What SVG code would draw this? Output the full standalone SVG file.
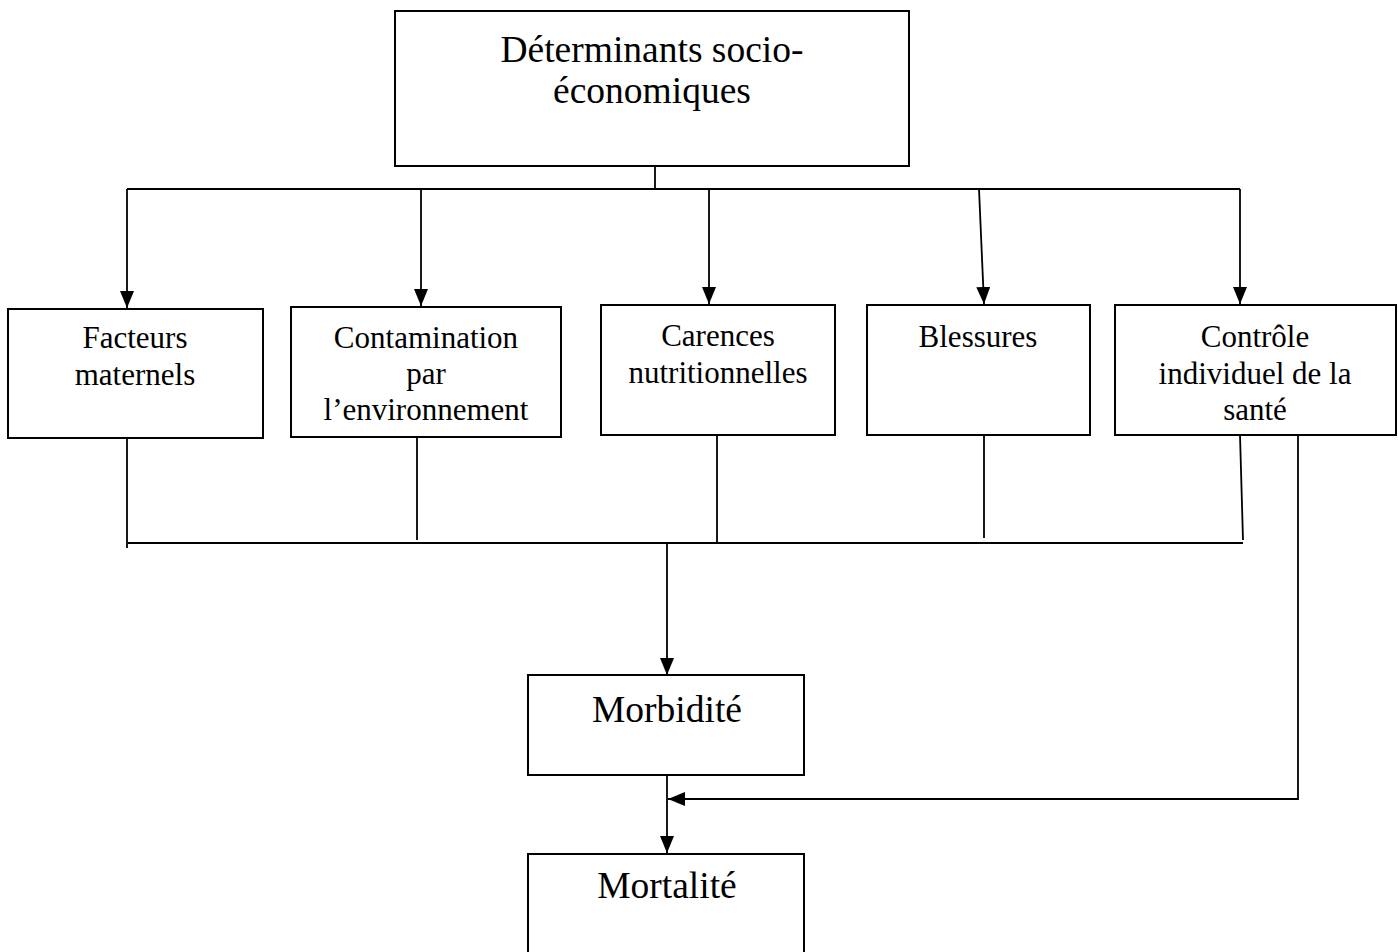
<svg xmlns="http://www.w3.org/2000/svg" width="1398" height="952" viewBox="0 0 1398 952">
<defs>
<style>
.box{fill:#fff;stroke:#000;stroke-width:2}
.ln{fill:none;stroke:#000;stroke-width:1.8}
.t{font-family:"Liberation Serif","Times New Roman",serif;fill:#000;text-anchor:middle}
.s{font-size:31px}
.b{font-size:37.5px}
</style>
<marker id="ah" markerUnits="userSpaceOnUse" markerWidth="17" markerHeight="14" refX="17" refY="7" orient="auto" viewBox="0 0 17 14">
<path d="M0,0 L17,7 L0,14 Z" fill="#000"/>
</marker>
</defs>
<rect width="1398" height="952" fill="#fff"/>
<g id="connectors">
<path class="ln" d="M655,166 V189 M127,189 H1240"/>
<path class="ln" d="M127,189 V308" marker-end="url(#ah)"/>
<path class="ln" d="M421,189 V306" marker-end="url(#ah)"/>
<path class="ln" d="M709,189 V304" marker-end="url(#ah)"/>
<path class="ln" d="M979,189 L984,304" marker-end="url(#ah)"/>
<path class="ln" d="M1240,189 V304" marker-end="url(#ah)"/>
<path class="ln" d="M127,438 V548 M417,437 V540 M717,435 V543 M984,435 V538 M1240,435 L1243,540 M128,543 H1243"/>
<path class="ln" d="M667,543 V675" marker-end="url(#ah)"/>
<path class="ln" d="M667,775 V853" marker-end="url(#ah)"/>
<path class="ln" d="M1298,435 V799 H668" marker-end="url(#ah)"/>
</g>
<g id="n-socio">
<rect class="box" x="395" y="11" width="514" height="155"/>
<text class="t b" x="652" y="62">Déterminants socio-</text>
<text class="t b" x="652" y="103">économiques</text>
</g>
<g id="n-facteurs">
<rect class="box" x="8" y="309" width="255" height="129"/>
<text class="t s" x="135" y="348">Facteurs</text>
<text class="t s" x="135" y="385">maternels</text>
</g>
<g id="n-contamination">
<rect class="box" x="291" y="307" width="270" height="130"/>
<text class="t s" x="426" y="348">Contamination</text>
<text class="t s" x="426" y="384">par</text>
<text class="t s" x="426" y="420">l’environnement</text>
</g>
<g id="n-carences">
<rect class="box" x="601" y="305" width="234" height="130"/>
<text class="t s" x="718" y="346">Carences</text>
<text class="t s" x="718" y="383">nutritionnelles</text>
</g>
<g id="n-blessures">
<rect class="box" x="867" y="305" width="223" height="130"/>
<text class="t s" x="978" y="347">Blessures</text>
</g>
<g id="n-controle">
<rect class="box" x="1115" y="305" width="281" height="130"/>
<text class="t s" x="1255" y="347">Contrôle</text>
<text class="t s" x="1255" y="384">individuel de la</text>
<text class="t s" x="1255" y="420">santé</text>
</g>
<g id="n-morbidite">
<rect class="box" x="528" y="675" width="276" height="100"/>
<text class="t b" x="667" y="722">Morbidité</text>
</g>
<g id="n-mortalite">
<path class="box" d="M528,960 V854 H804 V960"/>
<text class="t b" x="667" y="898">Mortalité</text>
</g>
</svg>
